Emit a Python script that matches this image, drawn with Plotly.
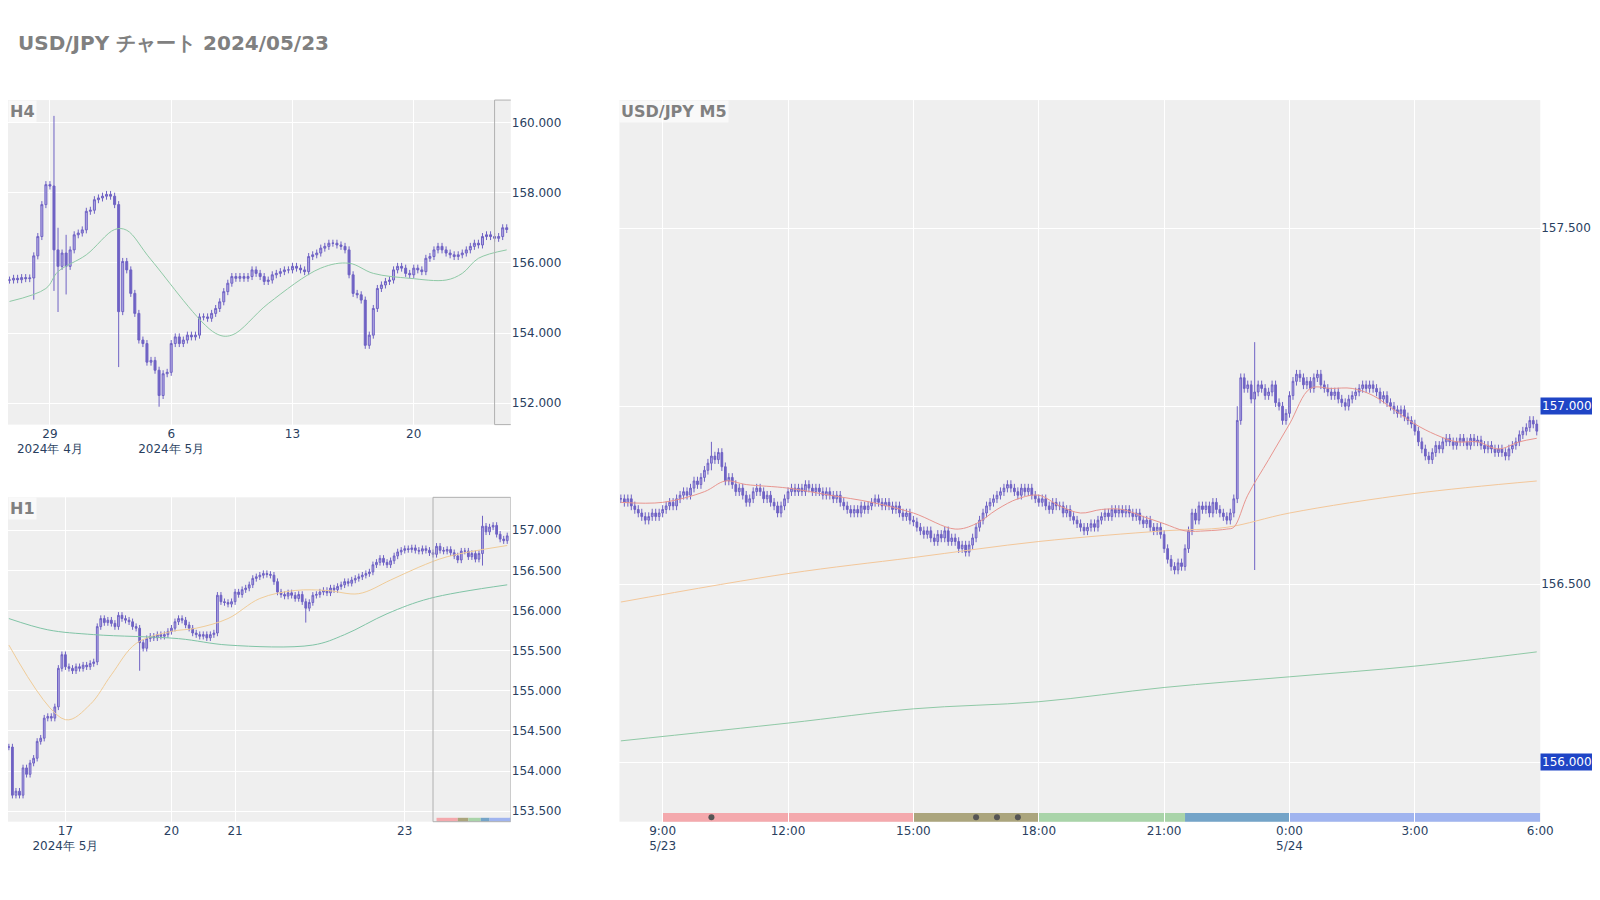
import pandas as pd
import plotly.graph_objects as go

# ---------------- DATA ----------------
title_text = "USD/JPY チャート 2024/05/23"

# H4 closes (Apr 25 08:00 -> May 23 20:00, weekdays, 4h)
h4_close = [155.51,155.56,155.52,155.58,155.55,155.57,156.20,156.75,157.66,158.23,
            158.19,156.37,155.90,156.28,155.90,156.37,156.80,156.85,156.94,157.47,
            157.50,157.80,157.85,157.90,157.95,157.90,157.66,154.61,156.04,155.80,
            155.13,154.56,153.80,153.70,153.17,153.22,152.94,152.22,152.84,152.88,
            153.70,153.89,153.70,153.80,153.94,153.89,153.94,154.46,154.46,154.42,
            154.56,154.70,154.89,155.18,155.42,155.61,155.56,155.61,155.56,155.61,
            155.80,155.70,155.61,155.47,155.51,155.66,155.70,155.75,155.80,155.80,
            155.90,155.85,155.80,155.75,156.18,156.23,156.28,156.42,156.47,156.56,
            156.56,156.51,156.47,156.37,155.66,155.13,155.09,154.94,153.65,153.94,
            154.70,155.27,155.37,155.47,155.51,155.80,155.90,155.85,155.70,155.66,
            155.85,155.80,155.75,156.13,156.18,156.37,156.47,156.37,156.28,156.23,
            156.18,156.23,156.28,156.37,156.47,156.56,156.51,156.75,156.80,156.75,
            156.70,156.75,157.00,156.95]
h4_spikes = {6: (156.30, 154.95), 11: (160.19, 155.20), 12: (157.00, 154.60),
             14: (156.80, 155.10), 27: (157.75, 153.03), 37: (152.90, 151.90),
             88: (154.95, 153.55)}
h4_ma_idx = [0, 9, 12, 19, 26, 29, 35, 51, 55, 64, 77, 84, 90, 99, 108, 112, 116, 123]
h4_ma_val = [154.90, 155.27, 155.75, 156.23, 156.95, 156.93, 156.09, 153.99, 153.94,
             154.84, 155.85, 155.99, 155.70, 155.56, 155.51, 155.70, 156.13, 156.37]

# H1 closes (May 16 08:00 -> May 24 05:00, weekend Sat 06:00-Mon 06:00 removed)
h1_close = [154.30,153.70,153.75,153.70,154.04,153.96,154.10,154.16,154.37,154.41,154.66,154.68,154.66,154.80,155.28,155.45,
            155.30,155.28,155.25,155.30,155.28,155.32,155.30,155.34,155.36,155.80,155.90,155.85,155.88,155.84,155.80,155.94,155.90,155.88,155.86,155.80,155.78,155.60,155.53,155.65,
            155.68,155.66,155.70,155.68,155.70,155.74,
            155.78,155.86,155.90,155.88,155.82,155.78,155.72,155.70,155.68,155.70,155.66,155.70,155.72,156.19,156.11,156.10,156.08,156.11,
            156.23,156.20,156.26,156.28,156.32,156.40,156.42,156.44,156.46,156.45,156.44,156.36,156.23,156.20,156.18,156.22,156.19,156.15,156.20,156.11,156.03,156.10,156.19,156.20,
            156.23,156.25,156.22,156.28,156.26,156.30,156.32,156.36,156.34,156.38,156.40,156.42,156.44,156.46,156.48,156.57,156.60,156.65,156.60,156.57,156.62,156.68,156.73,156.75,
            156.77,156.76,156.78,156.75,156.74,156.77,156.75,156.72,
            156.70,156.80,156.75,156.74,156.76,156.72,156.68,156.63,156.74,156.74,156.67,156.71,156.64,156.71,157.05,156.98,
            157.04,157.06,156.95,156.89,156.87,156.93]
h1_spikes = {37: (155.70, 155.25), 84: (156.15, 155.85), 134: (157.18, 156.56)}
h1_ma1_idx = [0, 16, 23, 29, 36, 46, 53, 62, 71, 81, 90, 99, 108, 116, 124, 141]
h1_ma1_val = [155.57, 154.64, 154.83, 155.20, 155.59, 155.74, 155.78, 155.90, 156.15,
              156.25, 156.25, 156.21, 156.38, 156.54, 156.67, 156.81]
h1_ma2_idx = [0, 11, 24, 48, 62, 86, 95, 107, 119, 141]
h1_ma2_val = [155.90, 155.76, 155.70, 155.65, 155.57, 155.57, 155.70, 155.96, 156.15, 156.32]

# M5 closes (May 23 08:00 -> May 24 05:55), one row per hour
m5_close = [
    156.74,156.73,156.74,156.72,156.71,156.70,156.69,156.68,156.69,156.70,156.69,156.70,
    156.71,156.72,156.73,156.72,156.74,156.75,156.76,156.75,156.77,156.79,156.78,156.80,
    156.82,156.84,156.86,156.85,156.87,156.83,156.79,156.80,156.78,156.76,156.77,156.75,
    156.73,156.74,156.76,156.77,156.76,156.74,156.75,156.73,156.72,156.70,156.72,156.74,
    156.76,156.77,156.76,156.77,156.76,156.78,156.77,156.76,156.77,156.76,156.75,156.76,
    156.75,156.74,156.75,156.73,156.72,156.71,156.70,156.71,156.70,156.72,156.71,156.72,
    156.73,156.74,156.73,156.72,156.73,156.72,156.71,156.72,156.70,156.69,156.70,156.68,
    156.675,156.66,156.65,156.64,156.65,156.63,156.62,156.64,156.63,156.65,156.62,156.63,
    156.62,156.60,156.61,156.59,156.61,156.63,156.66,156.68,156.70,156.72,156.73,156.74,
    156.75,156.76,156.77,156.78,156.77,156.76,156.75,156.77,156.76,156.77,156.75,156.74,
    156.73,156.74,156.72,156.71,156.73,156.72,156.72,156.70,156.71,156.69,156.68,156.67,
    156.66,156.65,156.66,156.67,156.66,156.68,156.69,156.70,156.69,156.71,156.70,156.71,
    156.70,156.71,156.70,156.69,156.70,156.68,156.67,156.68,156.66,156.65,156.66,156.64,
    156.60,156.57,156.55,156.54,156.56,156.55,156.60,156.65,156.70,156.68,156.72,156.71,
    156.72,156.70,156.73,156.71,156.70,156.69,156.68,156.70,156.74,156.96,157.08,157.05,
    157.06,157.02,157.04,157.06,157.05,157.03,157.04,157.06,157.01,157.00,156.96,156.98,
    157.03,157.07,157.09,157.08,157.06,157.07,157.05,157.08,157.09,157.06,157.05,157.04,
    157.03,157.04,157.02,157.01,157.00,157.02,157.03,157.04,157.05,157.06,157.05,157.06,
    157.05,157.04,157.02,157.03,157.01,157.00,156.99,156.98,156.99,156.97,156.96,156.95,
    156.93,156.90,156.88,156.86,156.85,156.87,156.89,156.88,156.90,156.91,156.90,156.89,
    156.90,156.91,156.90,156.89,156.91,156.90,156.905,156.89,156.88,156.89,156.88,156.87,
    156.88,156.87,156.86,156.88,156.89,156.90,156.92,156.93,156.94,156.96,156.95,156.93]
m5_spikes = {26: (156.90, 156.82), 182: (157.18, 156.54), 177: (157.00, 156.73)}
m5_ma_red_t = ["08:00","09:00","10:00","10:30","11:00","12:00","13:00","14:00","15:00","16:00","16:30",
               "17:00","17:30","18:00","18:30","19:00","19:30","20:00","20:30","21:00","21:30","22:00",
               "22:30","22:40","23:00","23:30","00:00","00:30","01:00","01:30","02:00","02:30","03:00",
               "03:30","04:00","04:30","05:00","05:30","05:55"]
m5_ma_red_v = [156.73,156.73,156.76,156.79,156.78,156.77,156.75,156.73,156.70,156.655,156.67,
               156.71,156.74,156.75,156.72,156.70,156.71,156.71,156.69,156.67,156.65,156.65,
               156.655,156.66,156.75,156.85,156.95,157.05,157.05,157.05,157.03,156.99,156.95,
               156.92,156.90,156.90,156.88,156.90,156.91]
m5_ma_org_t = ["08:00","12:00","15:00","18:00","21:00","22:30","00:00","03:00","05:55"]
m5_ma_org_v = [156.45,156.53,156.575,156.62,156.65,156.66,156.70,156.755,156.79]
m5_ma_grn_t = ["08:00","12:00","15:00","18:00","21:00","00:00","03:00","05:55"]
m5_ma_grn_v = [156.06,156.11,156.15,156.17,156.21,156.24,156.27,156.31]

sessions = [("2024-05-23 09:00", "2024-05-23 15:00", "#f4a9ad"),
            ("2024-05-23 15:00", "2024-05-23 18:00", "#aba57d"),
            ("2024-05-23 18:00", "2024-05-23 21:30", "#a9d4a9"),
            ("2024-05-23 21:30", "2024-05-24 00:00", "#74a4c8"),
            ("2024-05-24 00:00", "2024-05-24 06:00", "#a0b4ef")]
event_times = ["2024-05-23 10:10", "2024-05-23 16:30", "2024-05-23 17:00", "2024-05-23 17:30"]

# ---------------- TIME AXES ----------------
h4_t = [t for t in pd.date_range("2024-04-25 08:00", "2024-05-23 20:00", freq="4h") if t.weekday() < 5]
def in_break(t):
    return (t.weekday() == 5 and t.hour >= 6) or t.weekday() == 6 or (t.weekday() == 0 and t.hour < 6)
h1_t = [t for t in pd.date_range("2024-05-16 08:00", "2024-05-24 05:00", freq="1h") if not in_break(t)]
m5_t = list(pd.date_range("2024-05-23 08:00", periods=len(m5_close), freq="5min"))

def to_m5_time(s):
    d = "2024-05-24" if s < "07:00" else "2024-05-23"
    return pd.Timestamp(d + " " + s)

def ohlc(close, wick, spikes):
    o, h, l = [], [], []
    for i, c in enumerate(close):
        op = close[i - 1] if i > 0 else c
        hi, lo = max(op, c) + wick, min(op, c) - wick
        if i in spikes:
            hi = max(hi, spikes[i][0]); lo = min(lo, spikes[i][1])
        o.append(op); h.append(hi); l.append(lo)
    return o, h, l

CAND = "#6f62c4"
def candle(t, close, wick, spikes, xa, ya):
    o, h, l = ohlc(close, wick, spikes)
    return go.Candlestick(x=t, open=o, high=h, low=l, close=close, xaxis=xa, yaxis=ya,
                          increasing=dict(line=dict(color=CAND, width=1), fillcolor="#b4ace3"),
                          decreasing=dict(line=dict(color=CAND, width=1), fillcolor=CAND),
                          whiskerwidth=0, showlegend=False, hoverinfo="skip")

fig = go.Figure()
fig.add_trace(candle(h4_t, h4_close, 0.10, h4_spikes, "x", "y"))
fig.add_trace(go.Scatter(x=[h4_t[i] for i in h4_ma_idx], y=h4_ma_val, mode="lines",
                         line=dict(color="#8fc9a6", width=1, shape="spline"), xaxis="x", yaxis="y", showlegend=False))
fig.add_trace(candle(h1_t, h1_close, 0.04, h1_spikes, "x2", "y2"))
fig.add_trace(go.Scatter(x=[h1_t[i] for i in h1_ma1_idx], y=h1_ma1_val, mode="lines",
                         line=dict(color="#f0cc98", width=1, shape="spline"), xaxis="x2", yaxis="y2", showlegend=False))
fig.add_trace(go.Scatter(x=[h1_t[i] for i in h1_ma2_idx], y=h1_ma2_val, mode="lines",
                         line=dict(color="#80c4a6", width=1, shape="spline"), xaxis="x2", yaxis="y2", showlegend=False))
fig.add_trace(candle(m5_t, m5_close, 0.012, m5_spikes, "x3", "y3"))
for ts, vs, col in [(m5_ma_grn_t, m5_ma_grn_v, "#8fc9a6"), (m5_ma_org_t, m5_ma_org_v, "#f3c79a"),
                    (m5_ma_red_t, m5_ma_red_v, "#e8958f")]:
    fig.add_trace(go.Scatter(x=[to_m5_time(s) for s in ts], y=vs, mode="lines",
                             line=dict(color=col, width=1, shape="spline"), xaxis="x3", yaxis="y3", showlegend=False))
fig.add_trace(go.Scatter(x=pd.to_datetime(event_times), y=[0.006] * len(event_times), mode="markers",
                         marker=dict(color="#555555", size=6), xaxis="x3", yaxis="y4", showlegend=False,
                         cliponaxis=False))

shapes = []
for x0, x1, col in sessions:
    shapes.append(dict(type="rect", xref="x3", yref="y3 domain", x0=x0, x1=x1, y0=0, y1=0.012,
                       fillcolor=col, line_width=0, layer="below"))
    shapes.append(dict(type="rect", xref="x2", yref="y2 domain", x0=x0, x1=x1, y0=0, y1=0.012,
                       fillcolor=col, line_width=0, layer="below"))
for xa, ya in [("x", "y"), ("x2", "y2")]:
    shapes.append(dict(type="rect", xref=xa, yref=ya + " domain", x0="2024-05-23 08:00", x1="2024-05-24 06:00",
                       y0=0, y1=1, line=dict(color="#b0b0b0", width=1), fillcolor="rgba(0,0,0,0)"))

GRID = "white"
BG = "#efefef"
tickfont = dict(family="DejaVu Sans", size=12, color="#2a3f5f")
h4_break = [dict(bounds=["sat", "mon"])]
h1_break = [dict(bounds=["2024-05-18 06:00", "2024-05-20 06:00"])]

LX = [0, 0.3168]
RX = [0.3853, 0.9655]
Y_H4 = [0.5371, 0.8977]
Y_H1 = [0.0959, 0.4563]
Y_M5 = [0.0959, 0.8977]

fig.update_layout(
    width=1600, height=900, margin=dict(l=0, r=0, t=0, b=0),
    paper_bgcolor="white", plot_bgcolor=BG, shapes=shapes,
    font=dict(family="DejaVu Sans"),
    xaxis=dict(domain=LX, anchor="y", type="date", rangebreaks=h4_break,
               range=["2024-04-25 06:30", "2024-05-24 00:00"], rangeslider=dict(visible=False),
               tickvals=["2024-04-29", "2024-05-06", "2024-05-13", "2024-05-20"],
               ticktext=["29<br>2024年 4月", "6<br>2024年 5月", "13", "20"],
               gridcolor=GRID, tickfont=tickfont, showline=False, zeroline=False),
    yaxis=dict(domain=Y_H4, anchor="x", side="right", range=[151.39, 160.64],
               tickvals=[152, 154, 156, 158, 160], tickformat=".3f", gridcolor=GRID, tickfont=tickfont, zeroline=False),
    xaxis2=dict(domain=LX, anchor="y2", type="date", rangebreaks=h1_break,
                range=["2024-05-16 07:45", "2024-05-24 06:00"], rangeslider=dict(visible=False),
                tickvals=["2024-05-17", "2024-05-20 06:00", "2024-05-21", "2024-05-23"],
                ticktext=["17<br>2024年 5月", "20", "21", "23"],
                gridcolor=GRID, tickfont=tickfont, zeroline=False),
    yaxis2=dict(domain=Y_H1, anchor="x2", side="right", range=[153.37, 157.41],
                tickvals=[153.5, 154, 154.5, 155, 155.5, 156, 156.5, 157], tickformat=".3f",
                gridcolor=GRID, tickfont=tickfont, zeroline=False),
    xaxis3=dict(domain=RX, anchor="y3", type="date",
                range=["2024-05-23 07:58", "2024-05-24 06:00"], rangeslider=dict(visible=False),
                tickvals=["2024-05-23 09:00", "2024-05-23 12:00", "2024-05-23 15:00", "2024-05-23 18:00",
                          "2024-05-23 21:00", "2024-05-24 00:00", "2024-05-24 03:00", "2024-05-24 06:00"],
                ticktext=["9:00<br>5/23", "12:00", "15:00", "18:00", "21:00", "0:00<br>5/24", "3:00", "6:00"],
                gridcolor=GRID, tickfont=tickfont, zeroline=False),
    yaxis3=dict(domain=Y_M5, anchor="x3", side="right", range=[155.833, 157.86],
                tickvals=[156, 156.5, 157, 157.5], tickformat=".3f", gridcolor=GRID, tickfont=tickfont, zeroline=False),
    yaxis4=dict(domain=Y_M5, overlaying="y3", range=[0, 1], visible=False),
    annotations=[
        dict(text="<b>" + title_text + "</b>", xref="paper", yref="paper", x=0.005, y=0.961,
             xanchor="left", yanchor="middle", showarrow=False, font=dict(size=20, color="#808080")),
        dict(text="<b>H4</b>", xref="paper", yref="paper", x=0.0, y=Y_H4[1], xanchor="left", yanchor="top",
             showarrow=False, font=dict(size=16, color="#808080"), bgcolor="rgba(255,255,255,0.6)"),
        dict(text="<b>H1</b>", xref="paper", yref="paper", x=0.0, y=Y_H1[1], xanchor="left", yanchor="top",
             showarrow=False, font=dict(size=16, color="#808080"), bgcolor="rgba(255,255,255,0.6)"),
        dict(text="<b>USD/JPY M5</b>", xref="paper", yref="paper", x=RX[0], y=Y_M5[1], xanchor="left", yanchor="top",
             showarrow=False, font=dict(size=16, color="#808080"), bgcolor="rgba(255,255,255,0.6)"),
        dict(text="157.000", xref="paper", yref="y3", x=RX[1], y=157.0, xanchor="left", yanchor="middle",
             showarrow=False, font=dict(size=12, color="white"), bgcolor="#1f45c6", borderpad=1),
        dict(text="156.000", xref="paper", yref="y3", x=RX[1], y=156.0, xanchor="left", yanchor="middle",
             showarrow=False, font=dict(size=12, color="white"), bgcolor="#1f45c6", borderpad=1),
    ],
)
fig.write_html("out.html")
